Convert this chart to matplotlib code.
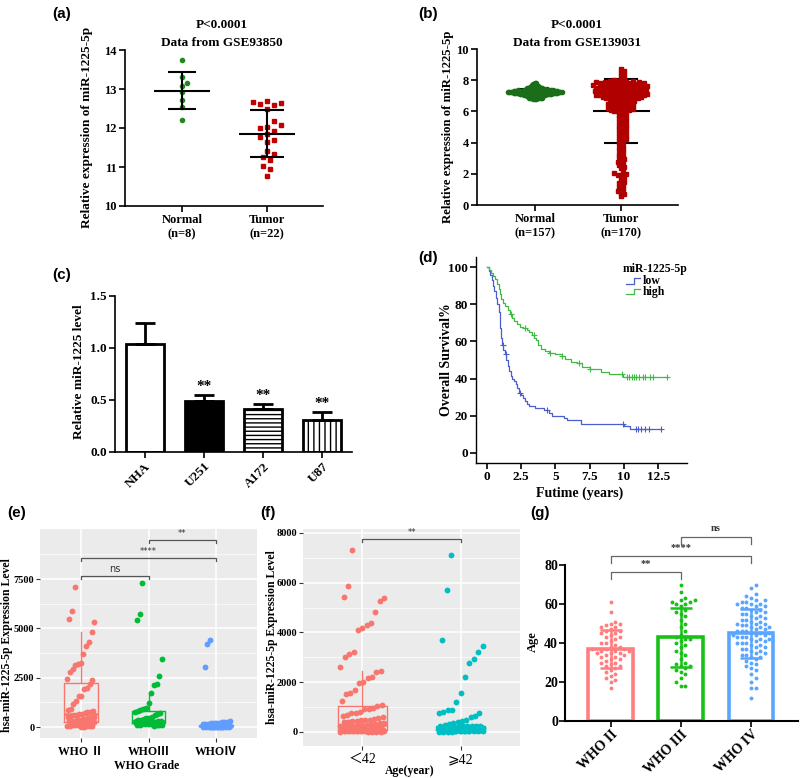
import numpy as np
import matplotlib
matplotlib.use('Agg')
import matplotlib.pyplot as plt
from matplotlib.lines import Line2D

plt.rcParams['font.family'] = ['Liberation Serif', 'Noto Sans CJK SC', 'DejaVu Sans']
plt.rcParams['font.weight'] = 'bold'
plt.rcParams['hatch.linewidth'] = 1.0

# ---------------- data ----------------
# (a) GSE93850
a_normal = [13.75, 13.30, 13.15, 13.08, 12.93, 12.73, 12.53, 12.21]
a_tumor = [12.70, 12.67, 12.64, 12.62, 12.58, 12.50, 12.18, 12.07, 12.03, 12.00, 11.92,
           11.85, 11.78, 11.70, 11.63, 11.42, 11.33, 11.25, 11.17, 11.03, 10.95, 10.78]

# (b) GSE139031
b_normal = [7.85, 7.80, 7.75, 7.72, 7.70, 7.68, 7.65, 7.63, 7.62, 7.60, 7.58, 7.57, 7.55, 7.54, 7.52, 7.51, 7.50, 7.50, 7.49, 7.48,
            7.47, 7.46, 7.45, 7.45, 7.44, 7.43, 7.42, 7.42, 7.41, 7.40, 7.40, 7.39, 7.38, 7.38, 7.37, 7.37, 7.36, 7.36, 7.35, 7.35,
            7.34, 7.34, 7.33, 7.33, 7.32, 7.32, 7.31, 7.31, 7.30, 7.30, 7.30, 7.29, 7.29, 7.28, 7.28, 7.28, 7.27, 7.27, 7.26, 7.26,
            7.26, 7.25, 7.25, 7.25, 7.24, 7.24, 7.24, 7.23, 7.23, 7.23, 7.22, 7.22, 7.22, 7.21, 7.21, 7.21, 7.20, 7.20, 7.20, 7.19,
            7.19, 7.19, 7.18, 7.18, 7.18, 7.17, 7.17, 7.16, 7.16, 7.16, 7.15, 7.15, 7.14, 7.14, 7.13, 7.13, 7.12, 7.12, 7.11, 7.11,
            7.10, 7.10, 7.09, 7.09, 7.08, 7.08, 7.07, 7.07, 7.06, 7.05, 7.05, 7.04, 7.03, 7.03, 7.02, 7.01, 7.00, 7.00, 6.99, 6.98,
            6.97, 6.96, 6.95, 6.94, 6.93, 6.92, 6.91, 6.90, 6.89, 6.88, 6.87, 6.86, 6.85, 6.84, 6.83, 6.82, 6.81, 6.80, 7.36, 7.33,
            7.31, 7.29, 7.27, 7.25, 7.23, 7.21, 7.19, 7.17, 7.15, 7.13, 7.11, 7.09, 7.27, 7.30, 7.32, 7.26, 7.24]
b_tumor = [8.70, 8.62, 8.48, 8.33, 8.21, 8.10, 8.03, 7.98, 7.96, 7.94, 7.92, 7.91, 7.89, 7.88, 7.86, 7.85, 7.83, 7.82, 7.80, 7.79,
           7.77, 7.76, 7.74, 7.73, 7.71, 7.70, 7.68, 7.67, 7.65, 7.64, 7.62, 7.61, 7.59, 7.58, 7.56, 7.55, 7.53, 7.52, 7.50, 7.49,
           7.47, 7.46, 7.44, 7.43, 7.41, 7.40, 7.38, 7.37, 7.35, 7.34, 7.32, 7.31, 7.29, 7.28, 7.26, 7.25, 7.23, 7.22, 7.20, 7.19,
           7.17, 7.16, 7.14, 7.13, 7.11, 7.10, 7.08, 7.07, 7.05, 7.04, 7.02, 7.01, 6.99, 6.97, 6.95, 6.93, 6.91, 6.89, 6.87, 6.85,
           6.83, 6.81, 6.79, 6.77, 6.75, 6.72, 6.69, 6.66, 6.63, 6.60, 6.57, 6.54, 6.51, 6.48, 6.45, 6.42, 6.39, 6.36, 6.33, 6.30,
           6.27, 6.24, 6.21, 6.18, 6.15, 6.12, 6.09, 6.06, 6.03, 6.00, 7.30, 7.10, 6.90, 7.60, 7.00,
           5.95, 5.88, 5.80, 5.72, 5.64, 5.56, 5.48, 5.40, 5.32, 5.24, 5.16, 5.08, 5.00, 4.92, 4.84, 4.76, 4.68, 4.60, 4.52, 4.44,
           4.36, 4.28, 4.20, 4.12, 4.04,
           3.90, 3.75, 3.60, 3.45, 3.30, 3.15, 3.05, 2.95, 2.85, 2.75, 2.65, 2.55, 2.45, 2.35, 2.10, 2.05, 2.00, 1.95, 1.90, 1.80,
           1.65, 1.50, 1.40, 1.30, 1.15, 1.00, 0.90, 0.80, 0.70, 0.55]

# (c) cell lines
cells = ['NHA', 'U251', 'A172', 'U87']
cell_mean = [1.04, 0.49, 0.41, 0.31]
cell_err = [0.20, 0.06, 0.05, 0.07]

# (d) Kaplan-Meier steps
low_t = [0, 0.15, 0.25, 0.35, 0.45, 0.55, 0.65, 0.75, 0.85, 0.92, 0.97, 1.02, 1.08, 1.20, 1.30, 1.42, 1.50, 1.60, 1.72,
         1.85, 1.97, 2.10, 2.22, 2.32, 2.48, 2.60, 2.75, 2.95, 3.10, 3.50, 4.15, 4.50, 4.75, 5.60, 5.85, 6.85, 9.97, 10.45, 12.67]
low_s = [100, 98, 95.5, 93, 90, 87, 83.5, 80, 76, 72, 67, 62, 58, 55.5, 53, 50, 47, 44, 41.5,
         40, 38.5, 37, 35, 32.5, 31, 29.5, 28, 26.5, 25.5, 24, 23, 21.5, 20, 19, 17.5, 15.7, 14.3, 13, 13]
high_t = [0, 0.12, 0.30, 0.45, 0.60, 0.75, 0.85, 0.95, 1.05, 1.20, 1.35, 1.50, 1.70, 1.85, 2.00, 2.20, 2.40, 2.65, 2.90,
          3.10, 3.30, 3.45, 3.60, 3.75, 3.95, 4.20, 4.50, 5.00, 5.50, 5.70, 6.10, 6.60, 6.95, 7.50, 8.30, 8.90, 9.90, 13.16]
high_s = [100, 98.5, 97, 95, 93.5, 91, 88, 85.5, 83, 80.5, 79, 77, 75, 72.5, 71, 69.5, 68, 67, 66,
          65, 63.5, 62, 60.5, 58, 56, 55, 54, 53, 52, 50.5, 49, 48.3, 46.5, 45, 43.8, 42.4, 41, 41]
low_cens = [1.17, 1.39, 2.40, 4.35, 9.90, 10.90, 11.05, 11.25, 11.50, 11.80, 12.67]
high_cens = [1.75, 2.80, 3.40, 4.60, 5.50, 6.70, 7.55, 9.85, 10.25, 10.40, 10.55, 10.70, 10.90, 11.10, 11.40,
             11.55, 11.90, 12.10, 13.16]

# (e) expression by WHO grade
e_labels = ['WHO Ⅱ', 'WHOⅢ', 'WHOⅣ']
e_g2 = [7100, 5900, 5450, 5300, 4800, 4300, 4100, 3700, 3250, 3200, 3150, 2950, 2800, 2450, 2400,
        2200, 2000, 1950, 1550, 1550, 1300, 1150, 900, 850, 800, 780, 750, 700, 680, 660,
        620, 600, 560, 520, 500, 470, 450, 420, 400, 380, 350, 320, 300, 280, 260,
        230, 200, 180, 160, 140, 120, 100, 90, 70, 60, 50, 40, 30, 20, 10]
e_g3 = [7300, 5750, 5400, 3450, 2600, 2200, 2150, 1700, 1200, 950, 900, 870,
        800, 750, 700, 650, 600, 520, 480, 450, 400, 360, 330, 310,
        290, 280, 270, 260, 250, 240, 230, 220, 210, 200, 190, 185,
        175, 170, 160, 150, 140, 130, 120, 110, 100, 90, 80, 60]
e_g4 = [4400, 4200, 3050, 280, 260, 240, 230, 220, 200, 190, 180, 170, 160, 150, 145, 140, 135, 130, 125, 120,
        115, 110, 105, 100, 98, 95, 92, 90, 88, 85, 82, 80, 78, 75, 72, 70, 68, 65, 62, 60, 58, 56, 54, 52,
        50, 48, 46, 44, 42, 40, 38, 36, 34, 32, 30, 28, 26, 24, 22, 20, 18, 16, 14, 12, 10, 8, 6, 5, 4, 3, 2, 1, 0]

# (f) expression by age
f_labels = ['＜42', '⩾42']
f_young = [7300, 5880, 5420, 5400, 5270, 4830, 4400, 4320, 4200, 4100, 3200, 3130, 3030, 2600, 2450, 2400, 2200,
           2180, 2000, 1980, 1700, 1550, 1530, 1250, 1100,
           1040, 950, 940, 930, 800, 780, 750, 700, 650, 600, 560, 520, 500, 480, 470, 450, 430, 420, 400, 380,
           360, 340, 320, 300, 290,
           270, 260, 250, 240, 230, 220, 210, 200, 190, 180, 170, 160, 150, 140, 130, 120, 115, 110, 105, 100,
           95, 90, 85, 80, 75,
           68, 65, 62, 60, 57, 55, 52, 50, 47, 45, 42, 40, 37, 35, 32, 30, 27, 25, 22, 20, 17, 15, 12, 10, 5]
f_old = [7100, 5700, 3700, 3450, 3220, 2930, 2780, 2200, 1550, 1200, 900, 880, 800, 780, 770, 640, 600,
         500, 450, 400, 350, 320, 290, 260,
         248, 245, 240, 235, 230, 225, 220, 215, 210, 205, 200, 195, 190, 185, 180, 175, 170, 167, 164, 161,
         158, 155, 152, 150,
         148, 145, 142, 139, 136, 133, 130, 127, 124, 121, 118, 115, 112, 109, 106, 103, 100, 97, 94, 91,
         88, 85, 83, 81,
         78, 75, 72, 69, 66, 63, 60, 57, 54, 51, 48, 45, 42, 39, 36, 33, 30, 27, 24, 21, 18, 15, 10, 5]

# (g) age by WHO grade
g_labels = ['WHO II', 'WHO III', 'WHO IV']
g_2 = [61, 56, 51, 50, 50, 49, 48, 48, 47, 46, 46, 45, 45, 44, 43, 43, 42, 41, 40, 40, 39, 38, 38, 37, 37, 37,
       36, 36, 36, 35, 35, 35, 34, 34, 33, 33, 32, 32, 31, 30, 30, 29, 28, 28, 27, 26, 25, 24, 23, 22, 21, 20, 17]
g_3 = [70, 66, 63, 62, 62, 61, 61, 60, 60, 59, 57, 56, 55, 54, 52, 50, 48, 46, 44, 43, 42, 42, 41, 40, 39, 38,
       36, 35, 34, 32, 30, 29, 28, 28, 27, 26, 25, 24, 22, 20, 18, 18]
g_4 = [70, 68, 65, 64, 63, 62, 62, 61, 61, 60, 60, 60, 59, 59, 58, 58, 57, 57, 56, 56, 55, 55, 54, 54, 53, 53,
       52, 52, 51, 51, 50, 50, 50, 49, 49, 48, 48, 48, 47, 47, 46, 46, 46, 45, 45, 45, 44, 44, 44, 43, 43, 43,
       42, 42, 42, 41, 41, 40, 40, 40, 39, 39, 38, 38, 37, 37, 36, 36, 35, 35, 34, 34, 33, 33, 32, 31, 30, 29,
       28, 27, 26, 24, 22, 20, 17, 17, 12]

# ---------------- helpers ----------------
fig = plt.figure(figsize=(8, 7.78), dpi=100)


def box(l, t, r, b):
    return [l / 800, 1 - b / 778, (r - l) / 800, (b - t) / 778]


def ftext(x, y, s, **kw):
    kw.setdefault('ha', 'center')
    kw.setdefault('va', 'center')
    fig.text(x / 800, 1 - y / 778, s, **kw)


def swarm(vals, px_x, px_y, d):
    # simple beeswarm, offsets in x data units
    y = np.asarray(vals, float) * px_y
    xs = np.zeros(len(y))
    done = []
    cands = [0.0] + [s * k * d / 2 for k in range(1, 300) for s in (1, -1)]
    for i in np.argsort(y):
        near = [p for p in done if abs(p[1] - y[i]) < d]
        for c in cands:
            if all((c - px) ** 2 + (y[i] - py) ** 2 >= d * d for px, py in near):
                break
        xs[i] = c
        done.append((c, y[i]))
    return xs / px_x


def jitter(n, w):
    i = np.arange(n)
    return (((i * 37 + 11) % 41) / 40.0 - 0.5) * 2 * w


def prism(ax):
    for s in ['top', 'right']:
        ax.spines[s].set_visible(False)
    for s in ['left', 'bottom']:
        ax.spines[s].set_linewidth(1.2)
    ax.tick_params(direction='out', length=4, width=1.2, labelsize=9, pad=2)


def mean_sd(ax, vals, x, half, cap, z):
    m, s = np.mean(vals), np.std(vals, ddof=1)
    ax.hlines(m, x - half, x + half, color='k', lw=1.5, zorder=z)
    ax.vlines(x, m - s, m + s, color='k', lw=1.5, zorder=z)
    ax.hlines([m - s, m + s], x - cap, x + cap, color='k', lw=1.5, zorder=z)


def ggbox(ax):
    ax.set_facecolor('#EBEBEB')
    for s in ax.spines.values():
        s.set_visible(False)
    ax.grid(which='major', color='white', lw=1.1)
    ax.grid(which='minor', color='white', lw=0.5)
    ax.set_axisbelow(True)
    ax.tick_params(which='major', length=3, width=0.8, color='#333333', pad=1)
    ax.tick_params(axis='y', labelsize=7.5)
    ax.tick_params(which='minor', length=0)


def bracket(ax, x1, x2, y, h, s, col, fs, **kw):
    ax.plot([x1, x1, x2, x2], [y - h, y, y, y - h], color=col, lw=0.9, clip_on=False)
    ax.text((x1 + x2) / 2, y + h * 0.6, s, ha='center', va='bottom', fontsize=fs, color='#333333', **kw)


# ---------------- (a) ----------------
ax = fig.add_axes(box(125, 50, 323, 206))
prism(ax)
ax.set_xlim(-0.67, 1.66)
ax.set_ylim(10, 14)
ax.plot(0 + swarm(a_normal, 85, 39, 5), a_normal, 'o', color='#1E8A1E', ms=3, zorder=2)
ax.plot(1 + swarm(a_tumor, 85, 39, 7), a_tumor, 's', color='#C00000', ms=3, zorder=2)
mean_sd(ax, a_normal, 0, 0.33, 0.16, 3)
mean_sd(ax, a_tumor, 1, 0.33, 0.2, 3)
ax.set_xticks([0, 1], ['Normal\n(n=8)', 'Tumor\n(n=22)'])
ax.set_yticks([10, 11, 12, 13, 14])
ftext(222, 25, 'P<0.0001', fontsize=9.5)
ftext(222, 43, 'Data from GSE93850', fontsize=9.5)
ftext(87, 127, 'Relative expression of miR-1225-5p', rotation=90, fontsize=9.5)

# ---------------- (b) ----------------
ax = fig.add_axes(box(477, 49, 678, 205))
prism(ax)
ax.set_xlim(-0.67, 1.66)
ax.set_ylim(0, 10)
mean_sd(ax, b_normal, 0, 0.3, 0.2, 1)
mean_sd(ax, b_tumor, 1, 0.33, 0.2, 1)
ax.plot(0 + swarm(b_normal, 86.3, 15.6, 1.5), b_normal, 'o', color='#1A6E1A', ms=3, zorder=2)
ax.plot(1 + swarm(b_tumor, 86.3, 15.6, 3.3), b_tumor, 's', color='#B00000', ms=2.6, zorder=2)
ax.set_xticks([0, 1], ['Normal\n(n=157)', 'Tumor\n(n=170)'])
ax.set_yticks([0, 2, 4, 6, 8, 10])
ftext(577, 25, 'P<0.0001', fontsize=9.5)
ftext(577, 43, 'Data from GSE139031', fontsize=9.5)
ftext(448, 127, 'Relative expression of miR-1225-5p', rotation=90, fontsize=9.2)

# ---------------- (c) ----------------
ax = fig.add_axes(box(115, 296, 352, 452))
prism(ax)
ax.set_xlim(-0.5, 3.5)
ax.set_ylim(0, 1.5)
xc = np.arange(len(cells))
bars = ax.bar(xc, cell_mean, width=0.64, color=['white', 'black', 'white', 'white'],
              edgecolor='black', lw=2, zorder=2)
bars[2].set_hatch('----')
bars[3].set_hatch('|||')
ax.errorbar(xc, cell_mean, yerr=[np.zeros(4), cell_err], fmt='none', ecolor='black',
            elinewidth=2, capsize=7, capthick=2, zorder=3)
for i in range(1, 4):
    ax.text(xc[i], cell_mean[i] + cell_err[i] + 0.02, '**', ha='center', va='bottom', fontsize=11)
ax.set_xticks(xc, cells, rotation=45, ha='right', rotation_mode='anchor')
ax.set_yticks([0, 0.5, 1.0, 1.5], ['0.0', '0.5', '1.0', '1.5'])
ax.tick_params(labelsize=9.5)
ftext(79, 372, 'Relative miR-1225 level', rotation=90, fontsize=9.5)

# ---------------- (d) ----------------
ax = fig.add_axes(box(476, 257, 687, 463))
prism(ax)
for s in ['left', 'bottom']:
    ax.spines[s].set_linewidth(1.0)
ax.set_xlim(-0.8, 14.6)
ax.set_ylim(-5.4, 105.4)
c_low, c_high = '#4B5FCB', '#3DBB45'
ax.plot(low_t, low_s, drawstyle='steps-post', color=c_low, lw=0.9)
ax.plot(high_t, high_s, drawstyle='steps-post', color=c_high, lw=0.9)
lc = np.array(low_s)[np.searchsorted(low_t, low_cens, side='right') - 1]
hc = np.array(high_s)[np.searchsorted(high_t, high_cens, side='right') - 1]
ax.plot(low_cens, lc, '+', color=c_low, ms=4, mew=0.8)
ax.plot(high_cens, hc, '+', color=c_high, ms=4, mew=0.8)
ax.set_xticks([0, 2.5, 5, 7.5, 10, 12.5], ['0', '2.5', '5', '7.5', '10', '12.5'])
ax.set_yticks([0, 20, 40, 60, 80, 100])
ax.tick_params(labelsize=9.5)
ftext(580, 493, 'Futime (years)', fontsize=10)
ftext(446, 360, 'Overall Survival%', rotation=90, fontsize=10)
ftext(655, 269, 'miR-1225-5p', fontsize=8.5)
for yy, col, lab in [(281, c_low, 'low'), (292, c_high, 'high')]:
    xs = np.array([626, 634, 634, 640]) / 800
    ys = 1 - np.array([yy + 2.5, yy + 2.5, yy - 2.5, yy - 2.5]) / 778
    fig.add_artist(Line2D(xs, ys, color=col, lw=0.9))
    ftext(643, yy, lab, ha='left', fontsize=8.5)

# ---------------- (e) ----------------
ax = fig.add_axes(box(40, 529, 257, 738))
ggbox(ax)
ax.set_xlim(-0.6, 2.6)
ax.set_ylim(-557, 10034)
ax.set_yticks([0, 2500, 5000, 7500])
ax.set_yticks([1250, 3750, 6250, 8750], minor=True)
e_cols = ['#F8766D', '#00BA38', '#619CFF']
e_data = [e_g2, e_g3, e_g4]
bp = ax.boxplot(e_data, positions=[0, 1, 2], widths=0.5, showfliers=False, showcaps=False)
for i, c in enumerate(e_cols):
    bp['boxes'][i].set(color=c, lw=1.0)
    bp['medians'][i].set(color=c, lw=1.8)
    bp['whiskers'][2 * i].set(color=c, lw=1.0)
    bp['whiskers'][2 * i + 1].set(color=c, lw=1.0)
    v = e_data[i]
    ax.plot(i + jitter(len(v), 0.2), v, 'o', color=c, ms=4.2, mew=0, zorder=3)
ax.set_xticks([0, 1, 2], e_labels, fontsize=8.5)
ax.tick_params(axis='x', pad=3)
bracket(ax, 0, 1, 7650, 160, 'ns', '#555555', 7, family='DejaVu Sans', fontweight='normal')
bracket(ax, 0, 2, 8565, 160, '****', '#555555', 6, family='DejaVu Sans', fontweight='normal')
bracket(ax, 1, 2, 9476, 160, '**', '#555555', 6, family='DejaVu Sans', fontweight='normal')
ftext(147, 766, 'WHO Grade', fontsize=8.5)
ftext(7, 645, 'hsa-miR-1225-5p Expression Level', rotation=90, fontsize=8.5)

# ---------------- (f) ----------------
ax = fig.add_axes(box(303, 529, 520, 746))
ggbox(ax)
ax.set_xlim(-0.6, 1.6)
ax.set_ylim(-563, 8160)
ax.set_yticks([0, 2000, 4000, 6000, 8000])
ax.set_yticks([1000, 3000, 5000, 7000], minor=True)
f_cols = ['#F8766D', '#00BFC4']
f_data = [f_young, f_old]
bp = ax.boxplot(f_data, positions=[0, 1], widths=0.5, showfliers=False, showcaps=False)
for i, c in enumerate(f_cols):
    bp['boxes'][i].set(color=c, lw=1.0)
    bp['medians'][i].set(color=c, lw=1.8)
    bp['whiskers'][2 * i].set(color=c, lw=1.0)
    bp['whiskers'][2 * i + 1].set(color=c, lw=1.0)
    v = f_data[i]
    ax.plot(i + jitter(len(v), 0.22), v, 'o', color=c, ms=4.2, mew=0, zorder=3)
ax.set_xticks([0, 1], f_labels, fontsize=10, fontweight='normal')
ax.tick_params(axis='x', pad=2)
bracket(ax, 0, 1, 7760, 140, '**', '#555555', 6, family='DejaVu Sans', fontweight='normal')
ftext(410, 771, 'Age(year)', fontsize=8.5)
ftext(272, 637, 'hsa-miR-1225-5p Expression Level', rotation=90, fontsize=8.5)

# ---------------- (g) ----------------
ax = fig.add_axes(box(565, 565, 798, 721))
prism(ax)
ax.spines['left'].set_linewidth(1.5)
ax.spines['bottom'].set_linewidth(1.5)
ax.tick_params(length=4, pad=1, labelsize=10)
ax.set_xlim(-0.65, 2.67)
ax.set_ylim(0, 80)
g_cols = ['#FF7F80', '#18C018', '#5AA6FF']
g_data = [g_2, g_3, g_4]
for i, c in enumerate(g_cols):
    v = g_data[i]
    m, s = np.mean(v), np.std(v, ddof=1)
    ax.bar(i, m, width=0.64, fill=False, edgecolor=c, lw=2.6, zorder=2)
    ax.plot(i + swarm(v, 70.5, 1.95, 4.6), v, 'o', color=c, ms=2.8, mew=0, zorder=3)
    ax.errorbar(i, m, yerr=s, fmt='none', ecolor=c, elinewidth=1.8, capsize=8, capthick=1.8, zorder=4)
ax.set_xticks([0, 1, 2], g_labels, rotation=45, ha='right', rotation_mode='anchor')
ax.set_yticks([0, 20, 40, 60, 80])
bracket(ax, 0, 1, 76.4, 3.6, '**', '#666666', 7.5)
bracket(ax, 0, 2, 84.6, 3.6, '****', '#666666', 7.5)
bracket(ax, 1, 2, 94.4, 3.6, 'ns', '#666666', 7.5)
ftext(533, 642, 'Age', rotation=90, fontsize=9)

# ---------------- panel letters ----------------
for x, y, s in [(62, 14, '(a)'), (428, 14, '(b)'), (62, 275, '(c)'), (428, 258, '(d)'),
                (17, 513, '(e)'), (268, 513, '(f)'), (540, 513, '(g)')]:
    ftext(x, y, s, fontsize=11, family='Liberation Sans', fontweight='bold')

fig.savefig('out.png', dpi=100)
